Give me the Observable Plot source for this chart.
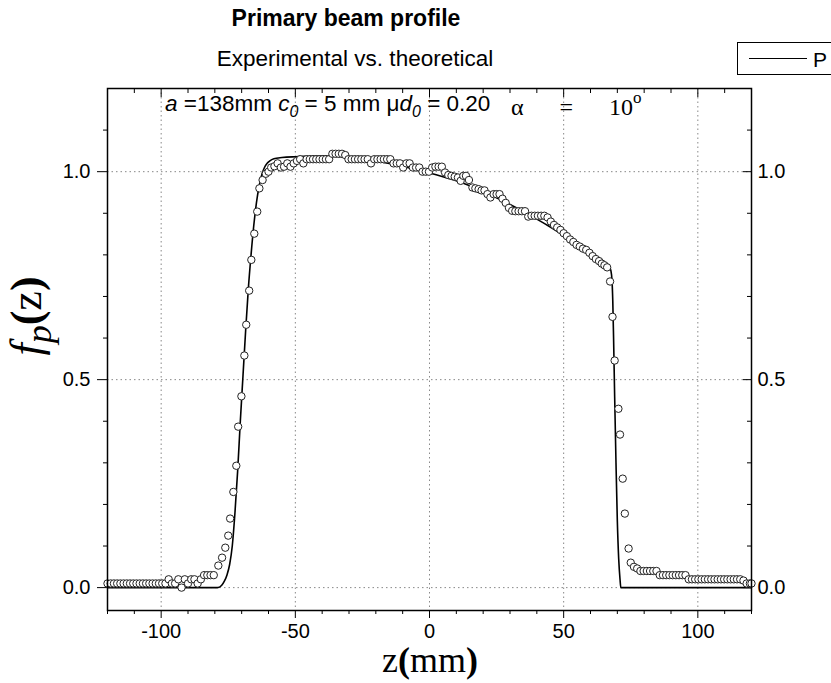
<!DOCTYPE html>
<html>
<head>
<meta charset="utf-8">
<script src="https://cdn.jsdelivr.net/npm/d3@7"></script>
<script src="https://cdn.jsdelivr.net/npm/@observablehq/plot@0.6"></script>
<style>
  html, body { margin: 0; padding: 0; background: #fff; overflow: hidden; }
  #wrap { position: relative; width: 831px; height: 683px; overflow: hidden; }
  .abs { position: absolute; white-space: nowrap; line-height: 1; color: #000; }
  .sans { font-family: "Liberation Sans", Arial, sans-serif; }
  .serif { font-family: "Liberation Serif", "Times New Roman", serif; }
  .ann { top: 93px; font-size: 22.5px; }
  .ann sub { font-size: 16px; }
</style>
</head>
<body>
<div id="wrap">
  <div id="chart"></div>
  <div class="abs sans" style="left:346px; top:7px; transform:translateX(-50%); font-size:23px; font-weight:bold;">Primary beam profile</div>
  <div class="abs sans" style="left:355px; top:48px; transform:translateX(-50%); font-size:22.5px;">Experimental vs. theoretical</div>
  <div class="abs" style="left:737px; top:42px; width:140px; height:31px; border:1px solid #000; background:#fff;">
    <div style="position:absolute; left:11px; top:15px; width:58px; border-top:1px solid #000;"></div>
    <div class="abs sans" style="left:75px; top:6px; font-size:21px;">P</div>
  </div>
  <div class="abs sans ann" style="left:165px;"><i>a</i> =138mm <i>c<sub>0</sub></i> = 5 mm μ<i>d<sub>0</sub></i> = 0.20</div>
  <div class="abs serif ann" style="left:511px; top:92px; font-size:24px; word-spacing:30px;">α = 10<sup style="font-size:17px; position:relative; top:-3px;">o</sup></div>
  <div class="abs serif" style="left:430px; top:642px; transform:translateX(-50%); font-size:36px;">z<b>(</b>mm<b>)</b></div>
  <div class="abs serif" style="left:31px; top:316px; transform:translate(-50%,-50%) rotate(-90deg); font-size:44px;"><i>f<sub style="font-size:36px">p</sub></i><b>(</b>z<b>)</b></div>
</div>
<script>
// Theoretical curve
const zTheory = [-120, -79, -77.5, -76.5, -75.5, -74.5, -73.5, -72.5, -71.5, -70.5, -69.5, -68.5, -67.5, -66.5, -65.5, -64.5, -63.5, -62.5, -61.5, -60.5, -59.5, -58, -55, -50, -45, -40, -35, -30, -25, -20, -15, -10, -5, 0, 5, 10, 15, 20, 25, 30, 35, 40, 45, 50, 55, 60, 65, 67, 67.6, 68, 68.3, 68.6, 69, 69.5, 70, 70.5, 71, 71.3, 120];
const fTheory = [0, 0, 0.005, 0.015, 0.03, 0.055, 0.10, 0.18, 0.28, 0.40, 0.51, 0.62, 0.72, 0.80, 0.87, 0.925, 0.965, 0.993, 1.010, 1.020, 1.026, 1.031, 1.034, 1.036, 1.037, 1.038, 1.037, 1.035, 1.031, 1.026, 1.020, 1.013, 1.005, 0.997, 0.988, 0.978, 0.966, 0.952, 0.937, 0.921, 0.904, 0.886, 0.867, 0.847, 0.827, 0.806, 0.784, 0.772, 0.762, 0.74, 0.69, 0.60, 0.46, 0.30, 0.16, 0.07, 0.02, 0, 0];

// Experimental points
const zExp = [
  -120, -118.8, -117.6, -116.4, -115.2, -114, -112.8, -111.6, -110.4, -109.2, -108, -106.8, -105.6, -104.4, -103.2, -102, -100.8, -99.6, -98.4,
  -97.2, -96, -94.8, -93.6, -92.4, -91.2, -90, -88.8, -87.6, -86.4, -85.2, -84, -82.8, -81.6, -80.4,
  -78.7, -77.3, -76.1, -75, -74.3, -73.1, -72, -71.3, -70.1, -69, -68.3, -67.2, -66.4, -65.3, -64.2, -63.4, -62.2, -61, -60,
  -59, -57.8, -56.6, -55.4, -54.2, -53, -51.8, -50.6, -49.4, -48.2, -47, -45.8, -44.6, -43.4, -42.2, -41, -39.8, -38.6, -37.4,
  -36.2, -35, -33.8, -32.6, -31.4, -30.2, -29, -27.8, -26.6, -25.4, -24.2, -23, -21.8, -20.6, -19.4, -18.2, -17, -15.8, -14.6,
  -13.4, -12.2, -11, -9.8, -8.6, -7.4, -6.2, -5, -3.8, -2.6, -1.4, -0.2, 1, 2.2, 3.4, 4.6, 5.8, 7, 8.2, 9.4, 10.6, 11.6, 12.6, 13.6, 14.7,
  16, 17.1, 18.3, 19.4, 20.5, 21.6, 22.7, 23.9, 25, 26.1, 27.2, 28.4, 29.6, 30.8, 32, 33.2, 34.4, 35.6, 36.8, 38, 39.2, 40.4, 41.6, 42.8,
  44, 45.2, 46.4, 47.6, 48.8, 50, 51.2, 52.4, 53.6, 54.8, 56, 57.2, 58.4, 59.6, 60.8, 62, 63.2, 64.2, 65.2, 66.2,
  67.3, 68.2, 69, 70.4, 71, 72, 72.8, 74.2, 75, 76.2, 77.4,
  78.6, 79.8, 81, 82.2, 83.4, 84.6, 85.8, 87, 88.2, 89.4, 90.6, 91.8, 93, 94.2, 95.4,
  96.6, 97.8, 99, 100.2, 101.4, 102.6, 103.8, 105, 106.2, 107.4, 108.6, 109.8, 111, 112.2, 113.4, 114.6, 115.8, 117, 118.2, 119.4, 120
];
const fExp = [
  0.01, 0.01, 0.01, 0.01, 0.01, 0.01, 0.01, 0.01, 0.01, 0.01, 0.01, 0.01, 0.01, 0.01, 0.01, 0.01, 0.01, 0.01, 0.01,
  0.02, 0.01, 0.01, 0.02, 0.0, 0.02, 0.01, 0.02, 0.02, 0.01, 0.02, 0.03, 0.03, 0.03, 0.03,
  0.053, 0.072, 0.096, 0.125, 0.166, 0.23, 0.293, 0.387, 0.46, 0.558, 0.632, 0.714, 0.788, 0.851, 0.904, 0.96, 0.98, 0.995, 1.0,
  1.010, 1.013, 1.020, 1.010, 1.012, 1.020, 1.012, 1.020, 1.026, 1.030, 1.020, 1.030, 1.030, 1.030, 1.030, 1.030, 1.030, 1.030, 1.030,
  1.043, 1.043, 1.043, 1.043, 1.040, 1.030, 1.030, 1.030, 1.030, 1.030, 1.030, 1.030, 1.020, 1.030, 1.030, 1.030, 1.030, 1.030, 1.030,
  1.020, 1.020, 1.020, 1.010, 1.020, 1.020, 1.010, 1.010, 1.010, 1.000, 1.000, 1.000, 1.010, 1.012, 1.012, 1.012, 0.998, 0.992, 0.990, 0.988, 0.986, 0.978, 0.990, 0.990, 0.980,
  0.962, 0.960, 0.958, 0.955, 0.955, 0.946, 0.938, 0.946, 0.946, 0.946, 0.935, 0.925, 0.913, 0.906, 0.905, 0.905, 0.905, 0.905, 0.892, 0.894, 0.894, 0.894, 0.894, 0.894,
  0.890, 0.880, 0.872, 0.866, 0.860, 0.852, 0.845, 0.837, 0.831, 0.824, 0.820, 0.815, 0.812, 0.805, 0.797, 0.790, 0.785, 0.779, 0.775, 0.770,
  0.736, 0.651, 0.546, 0.430, 0.368, 0.262, 0.178, 0.094, 0.060, 0.050, 0.046,
  0.04, 0.04, 0.04, 0.04, 0.04, 0.04, 0.03, 0.03, 0.03, 0.03, 0.03, 0.03, 0.03, 0.03, 0.03,
  0.02, 0.02, 0.02, 0.02, 0.02, 0.02, 0.02, 0.02, 0.02, 0.02, 0.02, 0.02, 0.02, 0.02, 0.02, 0.02, 0.02, 0.017, 0.01, 0.01, 0.01
];

const xMajor = [-100, -50, 0, 50, 100];
const xMinor = [-120, -110, -90, -80, -70, -60, -40, -30, -20, -10, 10, 20, 30, 40, 60, 70, 80, 90, 110, 120];
const yMajor = [0, 0.5, 1.0];
const yMinor = [0.1, 0.2, 0.3, 0.4, 0.6, 0.7, 0.8, 0.9, 1.1];

const theory = zTheory.map((z, i) => ({z, f: fTheory[i]}));
const exp = zExp.map((z, i) => ({z, f: fExp[i]}));

const fmtY = d3.format(".1f");
const fmtX = d => String(d);
const blank = () => "";

const chart = Plot.plot({
  width: 831,
  height: 683,
  marginLeft: 107,
  marginRight: 80,
  marginTop: 88,
  marginBottom: 73,
  style: {fontFamily: "'Liberation Sans', Arial, sans-serif", fontSize: "20px", color: "#000", background: "#fff"},
  x: {domain: [-120, 120]},
  y: {domain: [-0.055, 1.2]},
  marks: [
    Plot.gridX(xMajor, {stroke: "#888", strokeOpacity: 1, strokeDasharray: "1.5,3"}),
    Plot.gridY(yMajor, {stroke: "#888", strokeOpacity: 1, strokeDasharray: "1.5,3"}),
    // bottom axis
    Plot.axisX({anchor: "bottom", ticks: xMajor, tickSize: 8, tickPadding: 5, tickFormat: fmtX, label: null, fontSize: 20}),
    Plot.axisX({anchor: "bottom", ticks: xMinor, tickSize: 4, tickFormat: blank, label: null}),
    // top axis (inward)
    Plot.axisX({anchor: "top", ticks: xMajor, tickSize: 8, insetTop: 8, tickFormat: blank, label: null}),
    Plot.axisX({anchor: "top", ticks: xMinor, tickSize: 4, insetTop: 4, tickFormat: blank, label: null}),
    // left axis
    Plot.axisY({anchor: "left", ticks: yMajor, tickSize: 10, tickPadding: 7, tickFormat: fmtY, label: null, fontSize: 20}),
    Plot.axisY({anchor: "left", ticks: yMinor, tickSize: 4, tickFormat: blank, label: null}),
    // right axis (inward ticks, outside labels)
    Plot.axisY({anchor: "right", ticks: yMajor, tickSize: 9, insetRight: 9, tickFormat: blank, label: null}),
    Plot.axisY({anchor: "right", ticks: yMinor, tickSize: 5, insetRight: 5, tickFormat: blank, label: null}),
    Plot.axisY({anchor: "right", ticks: yMajor, tickSize: 0, tickPadding: 6, tickFormat: fmtY, label: null, fontSize: 20}),
    Plot.line(theory, {x: "z", y: "f", stroke: "#000", strokeWidth: 1.6, curve: "monotone-x"}),
    Plot.dot(exp, {x: "z", y: "f", r: 3.7, fill: "#fff", stroke: "#222", strokeWidth: 1}),
    Plot.frame({stroke: "#000", strokeWidth: 1.5})
  ]
});
document.getElementById("chart").appendChild(chart);
</script>
</body>
</html>
